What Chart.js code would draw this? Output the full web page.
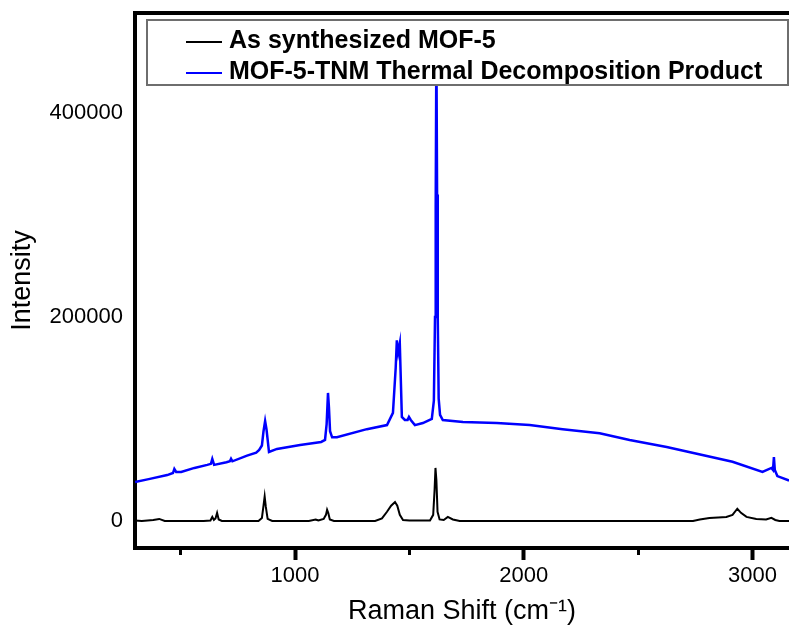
<!DOCTYPE html>
<html>
<head>
<meta charset="utf-8">
<script src="https://cdn.jsdelivr.net/npm/chart.js@4.4.1/dist/chart.umd.min.js"></script>
<style>
  html, body { margin: 0; padding: 0; background: #fff; }
  #wrap { width: 789px; height: 638px; }
</style>
</head>
<body>
<div id="wrap"><canvas id="raman" width="789" height="638"></canvas></div>
<script>
// Raman spectra: as-made MOF-5 vs. its TNM thermal decomposition product
const seriesLabels = ["As synthesized MOF-5", "MOF-5-TNM Thermal Decomposition Product"];

const asSynShift = [300, 330, 380, 406, 430, 600, 630, 638, 645, 652, 659, 666, 680, 840, 855, 862, 867, 872, 880, 900,
  1060, 1090, 1096, 1102, 1125, 1135, 1140, 1145, 1152, 1170, 1350, 1380, 1402, 1420, 1437, 1447, 1458, 1472, 1500,
  1590, 1604, 1610, 1614, 1618, 1623, 1632, 1650, 1668, 1690, 1720, 2740, 2770, 2812, 2850, 2886, 2913, 2934, 2950,
  2974, 3017, 3060, 3083, 3100, 3118, 3200];
const asSynIntensity = [500, 0, 1000, 2000, 0, 0, 500, 4000, 1000, 2500, 8000, 1500, 0, 0, 3000, 15000, 24000, 14000, 2000, 0,
  0, 1500, 1000, 500, 2000, 6000, 11000, 8000, 1500, 0, 0, 2500, 9000, 15000, 18600, 15000, 6000, 1000, 500,
  500, 6000, 30000, 52000, 40000, 9000, 1500, 1000, 4000, 1500, 0, 0, 1500, 3000, 3500, 4000, 6000, 12000, 8000,
  4000, 2000, 1500, 3000, 1000, 0, 0];

const tnmShift = [300, 360, 441, 466, 472, 480, 502, 560, 616, 632, 638, 646, 700, 715, 720, 726, 790, 830, 843, 855,
  862, 869, 875, 886, 921, 1022, 1114, 1131, 1138, 1144, 1148, 1153, 1162, 1183, 1314, 1402, 1428, 1440, 1445, 1451,
  1458, 1467, 1480, 1492, 1498, 1506, 1524, 1559, 1598, 1607, 1612, 1615, 1618, 1621, 1624, 1628, 1634, 1646, 1734,
  1882, 2026, 2170, 2332, 2463, 2625, 2913, 3044, 3083, 3090, 3094, 3098, 3109, 3157, 3200];
const tnmIntensity = [38200, 41000, 45000, 47000, 51000, 48000, 48000, 52000, 55000, 56000, 60800, 55000, 57500, 58500, 61000, 58500, 64000, 67000, 69600, 74000,
  88000, 98000, 90000, 67600, 70600, 74500, 77500, 79400, 95000, 125500, 112000, 88000, 82000, 82000, 90000, 94000, 106000, 150000, 177000, 165000,
  174000, 102000, 99000, 99000, 102000, 99000, 94000, 96000, 100000, 118000, 200000, 310000, 470000, 320000, 200000, 120000, 104000, 99000, 97000,
  96000, 94000, 90000, 86000, 79400, 72500, 58000, 48000, 52000, 50000, 62700, 50000, 44000, 40000, 38500];

const xTickValues = [500, 1000, 1500, 2000, 2500, 3000];
const yTickValues = [0, 200000, 400000];

const FONT = "'Liberation Sans', Arial, sans-serif";

function toPoints(xs, ys) {
  return xs.map((x, i) => ({ x: x, y: ys[i] }));
}

// sizes the axes by hand so the plot box sits where it should
function fixSize(prop, size) {
  return (scale) => {
    scale[prop] = size;
    scale.paddingLeft = 0;
    scale.paddingRight = 0;
    scale.paddingTop = 0;
    scale.paddingBottom = 0;
  };
}

const isMajor = (c) => c.tick && c.tick.value % 1000 === 0;

// legend drawn as a framed box inside the plot, over the data
const boxedLegend = {
  id: "boxedLegend",
  afterDatasetsDraw(chart) {
    const { ctx, chartArea } = chart;
    const left = chartArea.left + 12;
    const top = chartArea.top + 7;
    const w = chartArea.right - 1 - left;
    const h = 65;
    ctx.save();
    ctx.fillStyle = "#fff";
    ctx.fillRect(left, top, w, h);
    ctx.strokeStyle = "#6e6e6e";
    ctx.lineWidth = 2;
    ctx.strokeRect(left, top, w, h);
    ctx.font = "bold 25px " + FONT;
    ctx.textBaseline = "alphabetic";
    chart.data.datasets.forEach((ds, i) => {
      const rowY = top + 22 + i * 31;
      ctx.strokeStyle = ds.borderColor;
      ctx.lineWidth = 2;
      ctx.beginPath();
      ctx.moveTo(left + 39, rowY);
      ctx.lineTo(left + 75, rowY);
      ctx.stroke();
      ctx.fillStyle = "#000";
      ctx.fillText(ds.label, left + 82, rowY + 6);
    });
    ctx.restore();
  }
};

Chart.defaults.font.family = FONT;
Chart.defaults.color = "#000";

new Chart(document.getElementById("raman"), {
  type: "line",
  data: {
    datasets: [
      {
        label: seriesLabels[0],
        data: toPoints(asSynShift, asSynIntensity),
        borderColor: "#000000",
        borderWidth: 2,
        pointRadius: 0,
        tension: 0
      },
      {
        label: seriesLabels[1],
        data: toPoints(tnmShift, tnmIntensity),
        borderColor: "#0000ff",
        borderWidth: 2.5,
        pointRadius: 0,
        tension: 0
      }
    ]
  },
  options: {
    responsive: false,
    animation: false,
    layout: { padding: { top: 13, left: 0, right: 0, bottom: 0 } },
    plugins: {
      legend: { display: false },
      tooltip: { enabled: false }
    },
    scales: {
      x: {
        type: "linear",
        position: "bottom",
        min: 300,
        max: 3160,
        afterBuildTicks: (scale) => { scale.ticks = xTickValues.map(v => ({ value: v })); },
        afterFit: fixSize("height", 90),
        ticks: {
          padding: 3,
          maxRotation: 0,
          autoSkip: false,
          font: { size: 22 },
          callback: (v) => (v % 1000 === 0 ? String(v) : "")
        },
        grid: {
          drawOnChartArea: false,
          drawTicks: true,
          tickLength: 12,
          tickColor: "#000",
          tickWidth: (c) => (isMajor(c) ? 4 : 3),
          tickBorderDash: (c) => (isMajor(c) ? [] : [5, 30])
        },
        border: { display: true, color: "#000", width: 4 },
        title: {
          display: true,
          text: "Raman Shift (cm\u207B\u00B9)",
          font: { size: 27 },
          padding: { top: 0, bottom: 10 }
        }
      },
      xTop: {
        type: "linear",
        position: "top",
        min: 300,
        max: 3160,
        afterFit: fixSize("height", 0),
        ticks: { display: false },
        grid: { drawOnChartArea: false, drawTicks: false },
        border: { display: true, color: "#000", width: 4 }
      },
      y: {
        type: "linear",
        position: "left",
        min: -26500,
        max: 498000,
        afterBuildTicks: (scale) => { scale.ticks = yTickValues.map(v => ({ value: v })); },
        afterFit: fixSize("width", 135),
        ticks: {
          padding: 12,
          font: { size: 22 },
          callback: (v) => String(v)
        },
        grid: { drawOnChartArea: false, drawTicks: false },
        border: { display: true, color: "#000", width: 4 },
        title: {
          display: true,
          text: "Intensity",
          font: { size: 27 },
          padding: { top: 6, bottom: 0 }
        }
      }
    }
  },
  plugins: [boxedLegend]
});
</script>
</body>
</html>
